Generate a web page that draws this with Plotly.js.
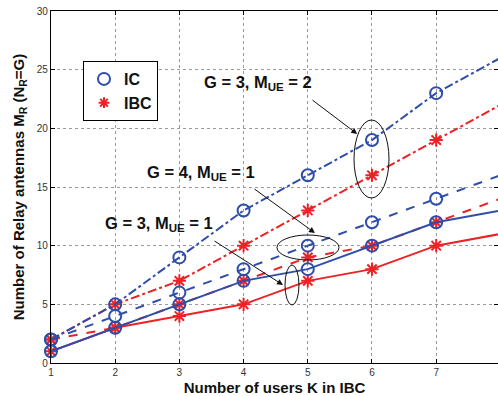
<!DOCTYPE html>
<html>
<head>
<meta charset="utf-8">
<script src="https://cdn.plot.ly/plotly-3.0.1.min.js"></script>
<style>html,body{margin:0;padding:0;background:#fff;}#chart{width:498px;height:396px;}</style>
</head>
<body>
<div id="chart"></div>
<script>
var users = [1, 2, 3, 4, 5, 6, 7, 8];
var xTicks = [1, 2, 3, 4, 5, 6, 7, 8];
var yTicks = [0, 5, 10, 15, 20, 25, 30];

// IC (blue circles)
var icG3M2 = [2, 5, 9, 13, 16, 19, 23, 26];
var icG4M1 = [2, 4, 6, 8, 10, 12, 14, 16];
var icG3M1 = [1, 3, 5, 7, 8, 10, 12, 13];
// IBC (red asterisks)
var ibcG3M2 = [2, 5, 7, 10, 13, 16, 19, 22];
var ibcG4M1 = [2, 3, 5, 7, 9, 10, 12, 14];
var ibcG3M1 = [1, 3, 4, 5, 7, 8, 10, 11];

var BLUE = 'rgb(46,78,170)';
var RED = 'rgb(236,34,38)';

function tr(y, color, dash, sym) {
  var isCircle = sym === 'circle-open';
  return {
    x: users, y: y, type: 'scatter', mode: 'lines+markers',
    showlegend: false, cliponaxis: false,
    line: {color: color, width: 2, dash: dash},
    marker: {symbol: sym, size: isCircle ? 12 : 11, color: color,
             line: {color: color, width: 2}}
  };
}

var data = [
  tr(ibcG3M2, RED, 'dashdot', 'asterisk-open'),
  tr(ibcG4M1, RED, 'dash', 'asterisk-open'),
  tr(ibcG3M1, RED, 'solid', 'asterisk-open'),
  tr(icG3M2, BLUE, 'dashdot', 'circle-open'),
  tr(icG4M1, BLUE, 'dash', 'circle-open'),
  tr(icG3M1, BLUE, 'solid', 'circle-open'),
  {x: [null], y: [null], type: 'scatter', mode: 'markers', name: 'IC',
   marker: {symbol: 'circle-open', size: 12, color: BLUE, line: {color: BLUE, width: 2}}},
  {x: [null], y: [null], type: 'scatter', mode: 'markers', name: 'IBC',
   marker: {symbol: 'asterisk-open', size: 9, color: RED, line: {color: RED, width: 2}}}
];

var FONT = 'Liberation Sans, Arial, sans-serif';
var annFont = {family: FONT, size: 16.5, color: '#111'};

function arrow(x0, y0, x1, y1) {
  return {x: x1, y: y1, ax: x0, ay: y0, xref: 'x', yref: 'y', axref: 'x', ayref: 'y',
          text: '', showarrow: true, arrowhead: 2, arrowsize: 1.2, arrowwidth: 1, arrowcolor: '#111'};
}
function label(x, y, t) {
  return {x: x, y: y, xref: 'x', yref: 'y', text: t, showarrow: false,
          xanchor: 'left', yanchor: 'middle', font: annFont};
}
function ell(x0, x1, y0, y1) {
  return {type: 'circle', xref: 'x', yref: 'y', x0: x0, x1: x1, y0: y0, y1: y1,
          line: {color: '#111', width: 1}};
}

var layout = {
  width: 498, height: 396,
  margin: {l: 51, r: 0, t: 11, b: 33},
  paper_bgcolor: '#fff', plot_bgcolor: '#fff',
  font: {family: FONT, color: '#222'},
  xaxis: {
    range: [1, 7.963], tickvals: xTicks, ticktext: xTicks.map(String),
    ticks: 'inside', ticklen: 4, tickcolor: '#000',
    showline: true, linecolor: '#000', linewidth: 1.2, mirror: 'ticks',
    showgrid: true, gridcolor: '#9a9a9a', griddash: 'dot', gridwidth: 1,
    zeroline: false, tickfont: {size: 10, color: '#333', family: FONT},
    title: {text: '<b>Number of users K in IBC</b>', font: {size: 15, color: '#111', family: FONT}, standoff: 5}
  },
  yaxis: {
    range: [0, 30], tickvals: yTicks, ticktext: yTicks.map(String),
    ticks: 'inside', ticklen: 4, tickcolor: '#000',
    showline: true, linecolor: '#000', linewidth: 1.2, mirror: 'ticks',
    showgrid: true, gridcolor: '#9a9a9a', griddash: 'dot', gridwidth: 1,
    zeroline: false, tickfont: {size: 10, color: '#333', family: FONT},
    title: {text: '<b>Number of Relay antennas M<sub>R</sub> (N<sub>R</sub>=G)</b>', font: {size: 15, color: '#111', family: FONT}, standoff: 8}
  },
  showlegend: true,
  legend: {x: 0.0716, y: 0.858, xanchor: 'left', yanchor: 'top',
           bgcolor: '#fff', bordercolor: '#000', borderwidth: 1,
           font: {family: FONT, size: 16, color: '#111', weight: 'bold'},
           itemwidth: 30, tracegroupgap: 0},
  annotations: [
    label(3.352, 23.9, '<b>G = 3, M<sub>UE</sub> = 2</b>'),
    label(2.464, 16.2, '<b>G = 4, M<sub>UE</sub> = 1</b>'),
    label(1.81, 11.85, '<b>G = 3, M<sub>UE</sub> = 1</b>'),
    arrow(5.05, 22.5, 5.77, 19.52),
    arrow(4.146, 14.92, 5.112, 11.08),
    arrow(3.523, 10.48, 4.614, 6.65)
  ],
  shapes: [
    ell(5.72, 6.265, 14.06, 20.71),
    ell(4.52, 5.486, 8.78, 10.91),
    ell(4.645, 4.863, 4.94, 8.35)
  ]
};

Plotly.newPlot('chart', data, layout, {displayModeBar: false, staticPlot: true});
</script>
</body>
</html>
